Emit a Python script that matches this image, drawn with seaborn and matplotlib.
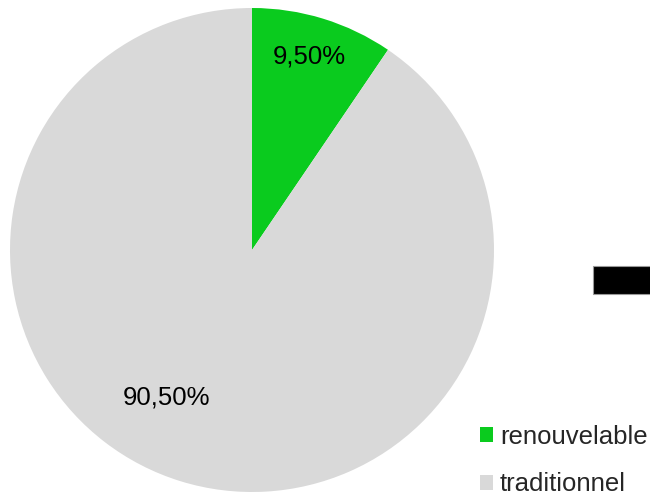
import matplotlib
matplotlib.use("Agg")
import matplotlib.pyplot as plt
import seaborn as sns
from matplotlib.patches import Rectangle

categories = ["renouvelable", "traditionnel"]
shares = [9.50, 90.50]
pct_labels = ["9,50%", "90,50%"]
colors = ["#0ACB1E", "#D9D9D9"]

sns.set_theme(style="white")
plt.rcParams["font.family"] = ["Liberation Sans", "DejaVu Sans"]

W, H = 650, 495
fig = plt.figure(figsize=(W / 100, H / 100), dpi=100)
fig.patch.set_facecolor("white")

# square axes holding the pie, placed in pixel units
cx, cy, r = 252, 250, 242
ax = fig.add_axes([(cx - r) / W, (H - cy - r) / H, 2 * r / W, 2 * r / H])
wedges, _ = ax.pie(shares, colors=colors, startangle=90, counterclock=False,
                   radius=1.0, wedgeprops=dict(linewidth=0))
ax.set_xlim(-1, 1)
ax.set_ylim(-1, 1)
ax.set_aspect("equal")
ax.axis("off")

# percentage labels inside the slices
label_pos = [(309, 56), (166, 398)]
for (px, py), txt in zip(label_pos, pct_labels):
    fig.text(px / W, 1 - py / H, txt, ha="center", va="center",
             fontsize=18.5, color="black")

# legend
leg = fig.legend(wedges, categories, loc="upper left",
                 bbox_to_anchor=(480 / W, 1 - 425 / H),
                 frameon=False, fontsize=18.5, handlelength=0.52,
                 handleheight=0.52, handletextpad=0.25, labelspacing=0.9,
                 borderaxespad=0, borderpad=0)

# dark box at the right edge
fig.patches.append(Rectangle((593 / W, 1 - 294 / H), 60 / W, 28 / H,
                             transform=fig.transFigure, facecolor="black",
                             edgecolor="#999999", linewidth=0.8))

fig.savefig("out.png", dpi=100, facecolor="white")
